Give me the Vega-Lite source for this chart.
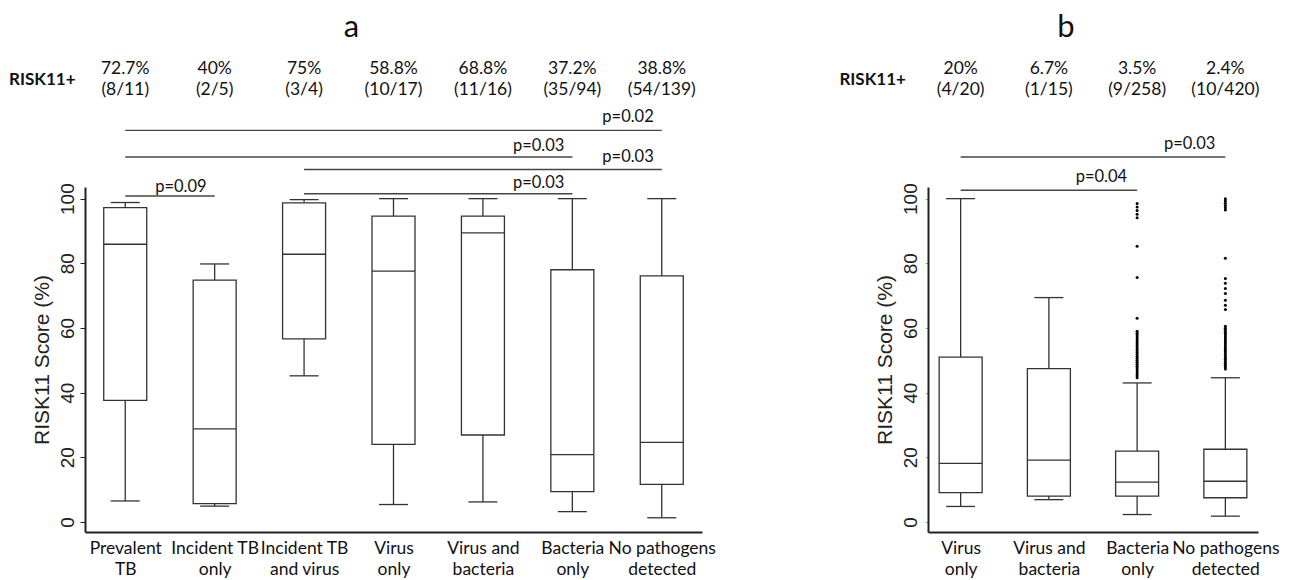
{
  "$schema": "https://vega.github.io/schema/vega-lite/v6.json",
  "background": "white",
  "padding": {"left": 8, "top": 11, "right": 5, "bottom": 5},
  "spacing": 123,
  "config": {
    "view": {"stroke": null},
    "text": {"font": "Lato", "color": "#111"}
  },
  "datasets": {
    "boxA": [
      {"group": "Prevalent|TB", "min": 6.5, "q1": 37.6, "median": 85.9, "q3": 97.2, "max": 98.8},
      {"group": "Incident TB|only", "min": 4.9, "q1": 5.7, "median": 28.8, "q3": 74.8, "max": 79.8},
      {"group": "Incident TB|and virus", "min": 45.2, "q1": 56.6, "median": 82.8, "q3": 98.7, "max": 99.7},
      {"group": "Virus|only", "min": 5.4, "q1": 24.0, "median": 77.6, "q3": 94.6, "max": 100},
      {"group": "Virus and|bacteria", "min": 6.2, "q1": 26.9, "median": 89.4, "q3": 94.6, "max": 100},
      {"group": "Bacteria|only", "min": 3.2, "q1": 9.4, "median": 20.8, "q3": 78.0, "max": 100},
      {"group": "No pathogens|detected", "min": 1.3, "q1": 11.6, "median": 24.6, "q3": 76.1, "max": 100}
    ],
    "annA": [
      {"group": "Prevalent|TB", "pct": "72.7%", "frac": "(8/11)"},
      {"group": "Incident TB|only", "pct": "40%", "frac": "(2/5)"},
      {"group": "Incident TB|and virus", "pct": "75%", "frac": "(3/4)"},
      {"group": "Virus|only", "pct": "58.8%", "frac": "(10/17)"},
      {"group": "Virus and|bacteria", "pct": "68.8%", "frac": "(11/16)"},
      {"group": "Bacteria|only", "pct": "37.2%", "frac": "(35/94)"},
      {"group": "No pathogens|detected", "pct": "38.8%", "frac": "(54/139)"}
    ],
    "pA": [
      {"from": "Prevalent|TB", "to": "No pathogens|detected", "level": 121.1, "labelY": 123.6, "label": "p=0.02"},
      {"from": "Prevalent|TB", "to": "Bacteria|only", "level": 112.9, "labelY": 114.7, "label": "p=0.03"},
      {"from": "Incident TB|and virus", "to": "No pathogens|detected", "level": 109.0, "labelY": 111.3, "label": "p=0.03"},
      {"from": "Incident TB|and virus", "to": "Bacteria|only", "level": 101.5, "labelY": 103.3, "label": "p=0.03"},
      {"from": "Prevalent|TB", "to": "Incident TB|only", "level": 100.8, "labelY": 102.0, "label": "p=0.09"}
    ],
    "boxB": [
      {"group": "Virus|only", "min": 4.8, "q1": 9.1, "median": 18.1, "q3": 51.0, "max": 100},
      {"group": "Virus and|bacteria", "min": 6.9, "q1": 8.0, "median": 19.1, "q3": 47.4, "max": 69.4},
      {"group": "Bacteria|only", "min": 2.3, "q1": 8.0, "median": 12.3, "q3": 21.9, "max": 43.0},
      {"group": "No pathogens|detected", "min": 1.8, "q1": 7.5, "median": 12.6, "q3": 22.5, "max": 44.6}
    ],
    "annB": [
      {"group": "Virus|only", "pct": "20%", "frac": "(4/20)"},
      {"group": "Virus and|bacteria", "pct": "6.7%", "frac": "(1/15)"},
      {"group": "Bacteria|only", "pct": "3.5%", "frac": "(9/258)"},
      {"group": "No pathogens|detected", "pct": "2.4%", "frac": "(10/420)"}
    ],
    "pB": [
      {"from": "Virus|only", "to": "No pathogens|detected", "level": 112.9, "labelY": 115.5, "label": "p=0.03"},
      {"from": "Virus|only", "to": "Bacteria|only", "level": 102.6, "labelY": 105.1, "label": "p=0.04"}
    ],
    "outB": [
      {"group": "Bacteria|only", "score": 98.5}, {"group": "Bacteria|only", "score": 97.4}, {"group": "Bacteria|only", "score": 96.3},
      {"group": "Bacteria|only", "score": 95.2}, {"group": "Bacteria|only", "score": 94.1}, {"group": "Bacteria|only", "score": 85.3},
      {"group": "Bacteria|only", "score": 75.6}, {"group": "Bacteria|only", "score": 63.0}, {"group": "Bacteria|only", "score": 59.0},
      {"group": "Bacteria|only", "score": 58.4}, {"group": "Bacteria|only", "score": 57.8}, {"group": "Bacteria|only", "score": 57.2},
      {"group": "Bacteria|only", "score": 56.6}, {"group": "Bacteria|only", "score": 56.0}, {"group": "Bacteria|only", "score": 55.4},
      {"group": "Bacteria|only", "score": 54.8}, {"group": "Bacteria|only", "score": 54.2}, {"group": "Bacteria|only", "score": 53.6},
      {"group": "Bacteria|only", "score": 53.0}, {"group": "Bacteria|only", "score": 52.4}, {"group": "Bacteria|only", "score": 51.8},
      {"group": "Bacteria|only", "score": 51.2}, {"group": "Bacteria|only", "score": 50.6}, {"group": "Bacteria|only", "score": 50.0},
      {"group": "Bacteria|only", "score": 49.4}, {"group": "Bacteria|only", "score": 48.8}, {"group": "Bacteria|only", "score": 48.2},
      {"group": "Bacteria|only", "score": 47.6}, {"group": "Bacteria|only", "score": 47.0}, {"group": "Bacteria|only", "score": 46.4},
      {"group": "Bacteria|only", "score": 45.8}, {"group": "Bacteria|only", "score": 45.2}, {"group": "Bacteria|only", "score": 44.6},
      {"group": "No pathogens|detected", "score": 100}, {"group": "No pathogens|detected", "score": 99.3}, {"group": "No pathogens|detected", "score": 98.6},
      {"group": "No pathogens|detected", "score": 97.9}, {"group": "No pathogens|detected", "score": 97.2}, {"group": "No pathogens|detected", "score": 96.5},
      {"group": "No pathogens|detected", "score": 81.6}, {"group": "No pathogens|detected", "score": 75.3}, {"group": "No pathogens|detected", "score": 73.8},
      {"group": "No pathogens|detected", "score": 72.2}, {"group": "No pathogens|detected", "score": 70.7}, {"group": "No pathogens|detected", "score": 68.6},
      {"group": "No pathogens|detected", "score": 67.0}, {"group": "No pathogens|detected", "score": 65.7},
      {"group": "No pathogens|detected", "score": 60.5}, {"group": "No pathogens|detected", "score": 59.9}, {"group": "No pathogens|detected", "score": 59.3},
      {"group": "No pathogens|detected", "score": 58.7}, {"group": "No pathogens|detected", "score": 58.1}, {"group": "No pathogens|detected", "score": 57.5},
      {"group": "No pathogens|detected", "score": 56.9}, {"group": "No pathogens|detected", "score": 56.3}, {"group": "No pathogens|detected", "score": 55.7},
      {"group": "No pathogens|detected", "score": 55.1}, {"group": "No pathogens|detected", "score": 54.5}, {"group": "No pathogens|detected", "score": 53.9},
      {"group": "No pathogens|detected", "score": 53.3}, {"group": "No pathogens|detected", "score": 52.7}, {"group": "No pathogens|detected", "score": 52.1},
      {"group": "No pathogens|detected", "score": 51.5}, {"group": "No pathogens|detected", "score": 50.9}, {"group": "No pathogens|detected", "score": 50.3},
      {"group": "No pathogens|detected", "score": 49.7}, {"group": "No pathogens|detected", "score": 49.1}, {"group": "No pathogens|detected", "score": 48.5},
      {"group": "No pathogens|detected", "score": 47.9}, {"group": "No pathogens|detected", "score": 47.3}
    ]
  },
  "hconcat": [
    {
      "width": 617,
      "height": 345,
      "layer": [
        {
          "data": {"name": "boxA"},
          "mark": {"type": "rule", "color": "#333", "strokeWidth": 1.3},
          "encoding": {
            "x": {"field": "group", "type": "nominal", "sort": null,
              "scale": {"type": "point", "padding": 0.45, "domain": ["Prevalent|TB", "Incident TB|only", "Incident TB|and virus", "Virus|only", "Virus and|bacteria", "Bacteria|only", "No pathogens|detected"]},
              "axis": {"title": null, "ticks": false, "labelExpr": "split(datum.label, '|')", "labelFont": "Lato", "labelFontSize": 17.5, "labelColor": "#111", "labelLineHeight": 21, "labelPadding": 7, "labelAngle": 0, "labelOverlap": false, "domainColor": "#222", "domainWidth": 2}},
            "y": {"field": "min", "type": "quantitative",
              "scale": {"domain": [-3.1, 103.6], "nice": false, "zero": false},
              "axis": {"title": "RISK11 Score (%)", "values": [0, 20, 40, 60, 80, 100], "grid": false, "labelAngle": 270, "labelAlign": "center", "labelBaseline": "bottom", "labelFont": "Liberation Sans", "labelFontSize": 19, "labelColor": "#222", "labelPadding": 3, "tickSize": 5, "tickColor": "#222", "domainColor": "#222", "domainWidth": 2, "titleFont": "Liberation Sans", "titleFontSize": 21, "titleFontWeight": "normal", "titleColor": "#222", "titlePadding": 6}},
            "y2": {"field": "q1"}
          }
        },
        {
          "data": {"name": "boxA"},
          "mark": {"type": "rule", "color": "#333", "strokeWidth": 1.3},
          "encoding": {
            "x": {"field": "group", "type": "nominal"},
            "y": {"field": "q3", "type": "quantitative"},
            "y2": {"field": "max"}
          }
        },
        {
          "data": {"name": "boxA"},
          "mark": {"type": "tick", "color": "#333", "size": 29, "thickness": 1.3, "opacity": 1},
          "encoding": {"x": {"field": "group", "type": "nominal"}, "y": {"field": "min", "type": "quantitative"}}
        },
        {
          "data": {"name": "boxA"},
          "mark": {"type": "tick", "color": "#333", "size": 29, "thickness": 1.3, "opacity": 1},
          "encoding": {"x": {"field": "group", "type": "nominal"}, "y": {"field": "max", "type": "quantitative"}}
        },
        {
          "data": {"name": "boxA"},
          "mark": {"type": "bar", "width": 43, "fill": "white", "stroke": "#333", "strokeWidth": 1.3},
          "encoding": {"x": {"field": "group", "type": "nominal"}, "y": {"field": "q1", "type": "quantitative"}, "y2": {"field": "q3"}}
        },
        {
          "data": {"name": "boxA"},
          "mark": {"type": "tick", "color": "#333", "size": 43, "thickness": 1.3, "opacity": 1},
          "encoding": {"x": {"field": "group", "type": "nominal"}, "y": {"field": "median", "type": "quantitative"}}
        },
        {
          "data": {"name": "pA"},
          "mark": {"type": "rule", "color": "#444", "strokeWidth": 1.4},
          "encoding": {"x": {"field": "from", "type": "nominal"}, "x2": {"field": "to"}, "y": {"field": "level", "type": "quantitative"}}
        },
        {
          "data": {"name": "pA"},
          "mark": {"type": "text", "align": "right", "baseline": "alphabetic", "fontSize": 16.5, "dx": -8},
          "encoding": {"x": {"field": "to", "type": "nominal"}, "y": {"field": "labelY", "type": "quantitative"}, "text": {"field": "label"}}
        },
        {
          "data": {"name": "annA"},
          "mark": {"type": "text", "align": "center", "baseline": "alphabetic", "fontSize": 17.5},
          "encoding": {"x": {"field": "group", "type": "nominal"}, "y": {"datum": 138.4}, "text": {"field": "pct"}}
        },
        {
          "data": {"name": "annA"},
          "mark": {"type": "text", "align": "center", "baseline": "alphabetic", "fontSize": 17.5},
          "encoding": {"x": {"field": "group", "type": "nominal"}, "y": {"datum": 132.0}, "text": {"field": "frac"}}
        },
        {
          "data": {"values": [{"label": "RISK11+", "panel": "a"}]},
          "mark": {"type": "text", "align": "center", "baseline": "alphabetic", "fontSize": 17, "fontWeight": "bold", "dx": -83},
          "encoding": {"x": {"datum": "Prevalent|TB"}, "y": {"datum": 135.1}, "text": {"field": "label"}}
        },
        {
          "data": {"values": [{"label": "RISK11+", "panel": "a"}]},
          "mark": {"type": "text", "align": "center", "baseline": "alphabetic", "fontSize": 31, "dx": -42},
          "encoding": {"x": {"datum": "Virus|only"}, "y": {"datum": 150}, "text": {"field": "panel"}}
        }
      ]
    },
    {
      "width": 330,
      "height": 345,
      "layer": [
        {
          "data": {"name": "boxB"},
          "mark": {"type": "rule", "color": "#333", "strokeWidth": 1.3},
          "encoding": {
            "x": {"field": "group", "type": "nominal", "sort": null,
              "scale": {"type": "point", "padding": 0.37, "domain": ["Virus|only", "Virus and|bacteria", "Bacteria|only", "No pathogens|detected"]},
              "axis": {"title": null, "ticks": false, "labelExpr": "split(datum.label, '|')", "labelFont": "Lato", "labelFontSize": 17.5, "labelColor": "#111", "labelLineHeight": 21, "labelPadding": 7, "labelAngle": 0, "labelOverlap": false, "domainColor": "#222", "domainWidth": 2}},
            "y": {"field": "min", "type": "quantitative",
              "scale": {"domain": [-3.1, 103.6], "nice": false, "zero": false},
              "axis": {"title": "RISK11 Score (%)", "values": [0, 20, 40, 60, 80, 100], "grid": false, "labelAngle": 270, "labelAlign": "center", "labelBaseline": "bottom", "labelFont": "Liberation Sans", "labelFontSize": 19, "labelColor": "#222", "labelPadding": 5, "tickSize": 3, "tickColor": "#aaa", "domainColor": "#222", "domainWidth": 2, "titleFont": "Liberation Sans", "titleFontSize": 21, "titleFontWeight": "normal", "titleColor": "#222", "titlePadding": 6}},
            "y2": {"field": "q1"}
          }
        },
        {
          "data": {"name": "boxB"},
          "mark": {"type": "rule", "color": "#333", "strokeWidth": 1.3},
          "encoding": {"x": {"field": "group", "type": "nominal"}, "y": {"field": "q3", "type": "quantitative"}, "y2": {"field": "max"}}
        },
        {
          "data": {"name": "boxB"},
          "mark": {"type": "tick", "color": "#333", "size": 29, "thickness": 1.3, "opacity": 1},
          "encoding": {"x": {"field": "group", "type": "nominal"}, "y": {"field": "min", "type": "quantitative"}}
        },
        {
          "data": {"name": "boxB"},
          "mark": {"type": "tick", "color": "#333", "size": 29, "thickness": 1.3, "opacity": 1},
          "encoding": {"x": {"field": "group", "type": "nominal"}, "y": {"field": "max", "type": "quantitative"}}
        },
        {
          "data": {"name": "boxB"},
          "mark": {"type": "bar", "width": 43, "fill": "white", "stroke": "#333", "strokeWidth": 1.3},
          "encoding": {"x": {"field": "group", "type": "nominal"}, "y": {"field": "q1", "type": "quantitative"}, "y2": {"field": "q3"}}
        },
        {
          "data": {"name": "boxB"},
          "mark": {"type": "tick", "color": "#333", "size": 43, "thickness": 1.3, "opacity": 1},
          "encoding": {"x": {"field": "group", "type": "nominal"}, "y": {"field": "median", "type": "quantitative"}}
        },
        {
          "data": {"name": "outB"},
          "mark": {"type": "circle", "color": "#000", "size": 9, "opacity": 1},
          "encoding": {"x": {"field": "group", "type": "nominal"}, "y": {"field": "score", "type": "quantitative"}}
        },
        {
          "data": {"name": "pB"},
          "mark": {"type": "rule", "color": "#444", "strokeWidth": 1.4},
          "encoding": {"x": {"field": "from", "type": "nominal"}, "x2": {"field": "to"}, "y": {"field": "level", "type": "quantitative"}}
        },
        {
          "data": {"name": "pB"},
          "mark": {"type": "text", "align": "right", "baseline": "alphabetic", "fontSize": 16.5, "dx": -10},
          "encoding": {"x": {"field": "to", "type": "nominal"}, "y": {"field": "labelY", "type": "quantitative"}, "text": {"field": "label"}}
        },
        {
          "data": {"name": "annB"},
          "mark": {"type": "text", "align": "center", "baseline": "alphabetic", "fontSize": 17.5},
          "encoding": {"x": {"field": "group", "type": "nominal"}, "y": {"datum": 138.4}, "text": {"field": "pct"}}
        },
        {
          "data": {"name": "annB"},
          "mark": {"type": "text", "align": "center", "baseline": "alphabetic", "fontSize": 17.5},
          "encoding": {"x": {"field": "group", "type": "nominal"}, "y": {"datum": 132.0}, "text": {"field": "frac"}}
        },
        {
          "data": {"values": [{"label": "RISK11+", "panel": "b"}]},
          "mark": {"type": "text", "align": "center", "baseline": "alphabetic", "fontSize": 17, "fontWeight": "bold", "dx": -88},
          "encoding": {"x": {"datum": "Virus|only"}, "y": {"datum": 135.1}, "text": {"field": "label"}}
        },
        {
          "data": {"values": [{"label": "RISK11+", "panel": "b"}]},
          "mark": {"type": "text", "align": "center", "baseline": "alphabetic", "fontSize": 31, "dx": 17},
          "encoding": {"x": {"datum": "Virus and|bacteria"}, "y": {"datum": 150}, "text": {"field": "panel"}}
        }
      ]
    }
  ]
}
